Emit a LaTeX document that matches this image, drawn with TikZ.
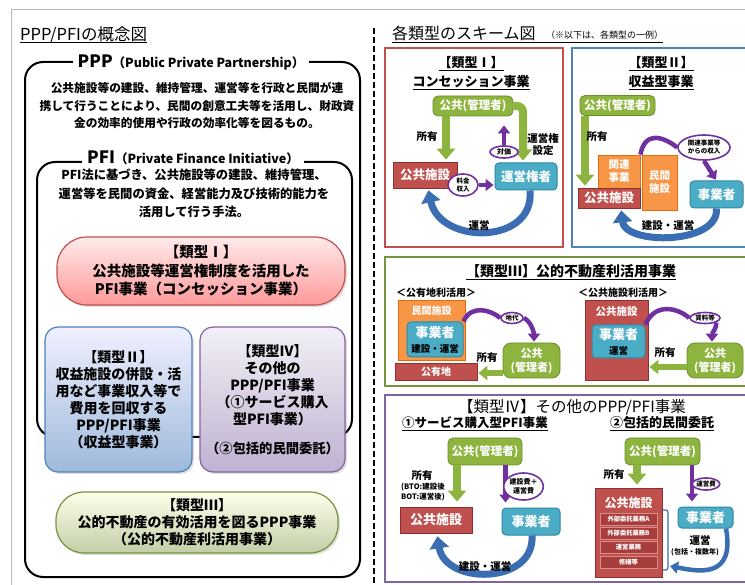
\documentclass[tikz,border=0pt]{standalone}
\usepackage{fontspec}
\setmainfont{Noto Sans CJK JP}
\usetikzlibrary{arrows.meta,shapes.geometric,shadows}
\definecolor{grnF}{HTML}{8DB43E}
\definecolor{grnD}{HTML}{6A8E2A}
\definecolor{redF}{HTML}{C0504D}
\definecolor{redD}{HTML}{8E2F2C}
\definecolor{redI}{HTML}{A83E3B}
\definecolor{redL}{HTML}{D98C8A}
\definecolor{tealF}{HTML}{4BACC6}
\definecolor{tealD}{HTML}{2E8AA3}
\definecolor{orgF}{HTML}{F79646}
\definecolor{orgD}{HTML}{E46C0A}
\definecolor{purp}{HTML}{7030A0}
\definecolor{bluA}{HTML}{3B6DB3}
\definecolor{panR}{HTML}{C0504D}
\definecolor{panB}{HTML}{4F81BD}
\definecolor{panG}{HTML}{77933C}
\definecolor{panP}{HTML}{8064A2}
\newcommand\fsz[2]{\fontsize{#1}{#2}\selectfont\bfseries}
\newcommand\fszm[2]{\fontsize{#1}{#2}\selectfont\mdseries}
\begin{document}
\begin{tikzpicture}[x=1pt,y=-1pt,font=\bfseries,
  gbox/.style={draw=grnD, fill=grnF, rounded corners=5pt, text=white, inner sep=0, line width=0.8pt, align=center},
  rbox/.style={draw=redD, fill=redF, text=white, inner sep=0, line width=0.8pt, align=center},
  ibox/.style={draw=redL, fill=redI, text=white, inner sep=0, line width=0.6pt, minimum width=57, minimum height=12, font=\fsz{6.3}{7}},
  tbox/.style={draw=tealD, fill=tealF, rounded corners=4pt, text=white, inner sep=0, line width=1pt, align=center},
  obox/.style={draw=orgD, fill=orgF, text=white, inner sep=0, line width=0.8pt, align=center},
  pell/.style={ellipse, draw=purp, line width=1.6pt, fill=white, inner sep=0, text=black, align=center},
  lbl/.style={inner sep=0, font=\fsz{10.5}{12}, align=center},
  wlbl/.style={inner sep=0, text=white, align=center},
  garrow/.style={draw=grnF, line width=8pt, -{Triangle[width=18pt,length=11pt]}},
  garrowh/.style={draw=grnF, line width=6pt, -{Triangle[width=14pt,length=9pt]}},
  parrow/.style={draw=purp, line width=4.5pt, -{Triangle[width=12pt,length=8pt]}},
  pline/.style={draw=purp, line width=4.5pt},
  barrow/.style={draw=bluA, line width=7pt, -{Triangle[width=19pt,length=12pt]}},
  barrows/.style={draw=bluA, line width=4.5pt, -{Triangle[width=12pt,length=8pt]}},
  panel/.style={draw, line width=1.5pt, fill=white, inner sep=0},
  ltype/.style={draw, line width=1.2pt, align=center, inner sep=0, drop shadow={opacity=0.25, shadow xshift=2pt, shadow yshift=-2pt}}
]
\useasboundingbox (0,0) rectangle (745,585);
\fill[white] (0,0) rectangle (745,585);

% frame
\draw[gray!55, line width=1pt] (11,585) -- (11,10) -- (745,10);
\draw[line width=1.3pt, dash pattern=on 6pt off 3pt] (374,28) -- (374,585);
\coordinate (ul) at (0,43);

% ================= LEFT =================
\node[anchor=west, inner sep=0, font=\fszm{16.5}{18}] (ltitle) at (20,35) {PPP/PFIの概念図};
\draw[line width=1pt] (ltitle.west |- ul) -- (ltitle.east |- ul);

\node[draw, line width=2pt, rounded corners=18pt, minimum width=335, minimum height=515, inner sep=0] (pppbox) at (192.5,319.5) {};
\node[fill=white, inner xsep=5pt, inner ysep=2pt] (ppplbl) at (191,62) {\fsz{17}{18}PPP\fsz{12.5}{14}（Public Private Partnership）};
\node[align=center, inner sep=0, font=\fsz{11.7}{17.5}] (pppdesc) at (197,105.5) {公共施設等の建設、維持管理、運営等を行政と民間が連\\携して行うことにより、民間の創意工夫等を活用し、財政資\\金の効率的使用や行政の効率化等を図るもの。};

\node[draw, line width=2pt, rounded corners=18pt, minimum width=315, minimum height=275, inner sep=0] (pfibox) at (194.5,299.5) {};
\node[fill=white, inner xsep=5pt, inner ysep=2pt] (pfilbl) at (193,158) {\fsz{17}{18}PFI\fsz{12.5}{14}（Private Finance Initiative）};
\node[align=center, inner sep=0, font=\fsz{12.3}{18.5}] (pfidesc) at (194,193.5) {PFI法に基づき、公共施設等の建設、維持管理、\\運営等を民間の資金、経営能力及び技術的能力を\\活用して行う手法。};

\node[ltype, draw=panR, top color=red!8, bottom color=red!40, rounded corners=30pt, minimum width=288, minimum height=68, font=\fsz{14.5}{18.5}] (lt1) at (201,271) {【類型Ⅰ】\\公共施設等運営権制度を活用した\\PFI事業（コンセッション事業）};
\node[ltype, draw=panB, top color=blue!6, bottom color=panB!55, rounded corners=13pt, minimum width=147, minimum height=145, font=\fsz{14}{17}] (lt2) at (118.5,399.5) {【類型Ⅱ】\\収益施設の併設・活\\用など事業収入等で\\費用を回収する\\PPP/PFI事業\\（収益型事業）};
\node[ltype, draw=panP, top color=panP!10, bottom color=panP!50, rounded corners=13pt, minimum width=145, minimum height=145, font=\fsz{14}{17}] (lt4) at (272.5,399.5) {【類型Ⅳ】\\その他の\\PPP/PFI事業\\（①サービス購入\\型PFI事業）\\[12pt]\fsz{13.3}{15}（②包括的民間委託）};
\node[ltype, draw=panG, top color=green!4!yellow!8, bottom color=panG!45, rounded corners=28pt, minimum width=282, minimum height=61, font=\fsz{14}{17}] (lt3) at (197,522.5) {【類型Ⅲ】\\公的不動産の有効活用を図るPPP事業\\（公的不動産利活用事業）};

% ================= RIGHT =================
\node[anchor=west, inner sep=0, font=\fszm{16}{18}] (rtitle) at (392,33) {各類型のスキーム図};
\node[anchor=west, inner sep=0, font=\fszm{9}{10}] (rsub) at (546,35) {（※以下は、各類型の一例）};
\draw[line width=1pt] (rtitle.west |- ul) -- (rsub.east |- ul);

% ---- Panel I ----
\node[panel, draw=panR, minimum width=178, minimum height=199] (p1) at (474,147.5) {};
\node[align=center, inner sep=0, font=\fsz{13}{19.5}] (p1t) at (471,73) {\underline{【類型Ⅰ】}\\\underline{コンセッション事業}};
\node[gbox, minimum width=80, minimum height=20, font=\fsz{11.5}{13}] (g1) at (473,106) {公共(管理者)};
\node[rbox, minimum width=64, minimum height=26, font=\fsz{12.5}{14}] (f1) at (425,175) {公共施設};
\node[tbox, minimum width=62, minimum height=27, font=\fsz{12.5}{14}] (o1) at (526,176.5) {運営権者};
\coordinate (x1) at (446,0);
\coordinate (x2) at (523,0);
\coordinate (x3) at (530,0);
\coordinate (x4) at (428,0);
\draw[garrow, shorten >=2pt] (g1.south -| x1) -- (f1.north -| x1);
\draw[garrow, rounded corners=6pt, shorten >=2pt] (g1.east) -| (o1.north -| x2);
\node[lbl] (l1a) at (427,137) {所有};
\node[lbl] (l1b) at (543,145) {運営権\\設定};
\node[pell, minimum width=28, minimum height=12, font=\fsz{7}{8}] (e1) at (504,152) {対価};
\draw[parrow, shorten >=9pt] (e1.north) -- (e1.north |- g1.south);
\node[pell, minimum width=30, minimum height=22, font=\fsz{6.5}{7.5}] (e2) at (463,185) {料金\\収入};
\draw[parrow, shorten >=1pt] (e2.east) -- (e2.east -| o1.west);
\draw[barrow, shorten >=2pt] (o1.south -| x3) .. controls (535,245) and (440,245) .. (f1.south -| x4);
\node[lbl] (l1c) at (479,226) {運営};

% ---- Panel II ----
\node[panel, draw=panB, minimum width=180, minimum height=199] (p2) at (662,147.5) {};
\node[align=center, inner sep=0, font=\fsz{13}{19.5}] (p2t) at (661,73) {\underline{【類型Ⅱ】}\\\underline{収益型事業}};
\node[gbox, minimum width=75, minimum height=20, font=\fsz{11.5}{13}] (g2) at (617.5,105.5) {公共(管理者)};
\node[obox, minimum width=35, minimum height=55, font=\fsz{10.5}{13}] (m2) at (659.5,182.5) {民間\\施設};
\node[obox, minimum width=42, minimum height=33, font=\fsz{10.5}{13}] (k2) at (619,171.5) {関連\\事業};
\node[rbox, minimum width=62, minimum height=20, font=\fsz{12.5}{14}] (f2) at (609,198) {公共施設};
\node[tbox, minimum width=53, minimum height=27, font=\fsz{12.5}{14}] (j2) at (716.5,194.5) {事業者};
\coordinate (x5) at (585,0);
\coordinate (x6) at (621,0);
\draw[garrow, shorten >=2pt] (g2.south -| x5) -- (f2.north -| x5);
\node[lbl] (l2a) at (597,137) {所有};
\node[pell, minimum width=52, minimum height=25, font=\fsz{6.5}{8}] (e3) at (704,147.5) {関連事業等\\からの収入};
\draw[pline] (k2.north east) .. controls (645,130) and (664,137) .. (e3.west);
\draw[parrow, shorten >=1pt] (e3.south) -- (j2.north);
\draw[barrow, shorten >=2pt] (j2.south) .. controls (719,245) and (625,245) .. (f2.south -| x6);
\node[lbl] (l2b) at (668,226) {建設・運営};

% ---- Panel III ----
\node[panel, draw=panG, minimum width=367, minimum height=129] (p3) at (568.5,321.5) {};
\node[inner sep=0, font=\fsz{14}{16}] (p3t) at (571,272) {\underline{【類型Ⅲ】公的不動産利活用事業}};
\node[inner sep=0, font=\fsz{10}{12}] (p3a) at (436,293) {＜公有地利活用＞};
\node[inner sep=0, font=\fsz{10}{12}] (p3b) at (623,293) {＜公共施設利活用＞};
% left sub
\node[obox, minimum width=67, minimum height=60] (m3) at (431.5,330) {};
\node[wlbl, font=\fsz{10}{12}] (m3l) at (431.5,311) {民間施設};
\node[tbox, minimum width=56, minimum height=35, font=\fsz{13}{15}] (b3) at (435,339.5) {事業者\\\fsz{9.5}{11}\color{black}建設・運営};
\node[rbox, minimum width=82, minimum height=17, font=\fsz{10}{12}] (r3) at (436,371.5) {公有地};
\node[gbox, rounded corners=8pt, minimum width=57, minimum height=35, font=\fsz{11}{14}] (g7) at (531.5,360.5) {公共\\(管理者)};
\coordinate (y1) at (0,373);
\coordinate (x7) at (534,0);
\draw[garrowh, shorten >=1pt] (g7.west |- y1) -- (r3.east |- y1);
\node[lbl] (l3a) at (487,358) {所有};
\node[pell, minimum width=22, minimum height=11, font=\fsz{6.5}{7}] (e4) at (512,318) {地代};
\draw[pline] (b3.north east) .. controls (471,304) and (491,310) .. (e4.west);
\draw[parrow, shorten >=1pt] (e4.east) .. controls (531,321) and (534,333) .. (g7.north -| x7);
% right sub
\node[rbox, minimum width=63, minimum height=80] (f3) at (616.5,340) {};
\node[wlbl, font=\fsz{10.5}{12}] (f3l) at (616.5,312) {公共施設};
\node[tbox, minimum width=53, minimum height=33, font=\fsz{13}{15}] (b4) at (618.5,341.5) {事業者\\\fsz{9.5}{11}\color{black}運営};
\node[gbox, rounded corners=8pt, minimum width=56, minimum height=35, font=\fsz{11}{14}] (g8) at (715,360.5) {公共\\(管理者)};
\coordinate (y2) at (0,367);
\coordinate (x8) at (712,0);
\draw[garrowh, shorten >=1pt] (g8.west |- y2) -- (f3.east |- y2);
\node[lbl] (l3b) at (665,353) {所有};
\node[pell, minimum width=30, minimum height=11, font=\fsz{6.5}{7}] (e5) at (705,318) {賃料等};
\draw[pline] (b4.north east) .. controls (655,302) and (678,308) .. (e5.west);
\draw[parrow, shorten >=1pt] (e5.south east) .. controls (717,328) and (712,333) .. (g8.north -| x8);

% ---- Panel IV ----
\node[panel, draw=panP, minimum width=367, minimum height=187] (p4) at (568.5,488.5) {};
\node[inner sep=0, font=\fszm{15.5}{17}] (p4t) at (572,407) {【類型Ⅳ】その他のPPP/PFI事業};
\node[inner sep=0, font=\fsz{12.5}{14}] (p4a) at (475,424) {\underline{①サービス購入型PFI事業}};
\node[inner sep=0, font=\fsz{13}{14}] (p4b) at (662,424) {\underline{②包括的民間委託}};
% left sub
\node[gbox, minimum width=74, minimum height=27, font=\fsz{11.5}{13}] (g9) at (485,451.5) {公共(管理者)};
\node[rbox, minimum width=72, minimum height=26, font=\fsz{13}{15}] (f4) at (436,520) {公共施設};
\node[tbox, minimum width=58, minimum height=27, font=\fsz{13}{15}] (j4) at (531,521.5) {事業者};
\coordinate (x9) at (457,0);
\coordinate (x10) at (505.5,0);
\coordinate (x11) at (437,0);
\coordinate (x12) at (532,0);
\draw[garrow, shorten >=5pt] (g9.south -| x9) -- (f4.north -| x9);
\node[lbl, font=\fsz{10.5}{11}] (l4a) at (422,476) {所有};
\node[lbl, font=\fsz{7.5}{10}] (l4b) at (423,492) {(BTO:建設後\\BOT:運営後)};
\draw[parrow, shorten >=5pt] (g9.south -| x10) -- (j4.north -| x10);
\node[pell, minimum width=33, minimum height=27, font=\fsz{7}{9}] (e6) at (523.5,486.5) {建設費＋\\運営費};
\draw[barrow, shorten >=3pt] (j4.south -| x12) .. controls (535,585) and (445,585) .. (f4.south -| x11);
\node[lbl] (l4c) at (485,567) {建設・運営};
% right sub
\node[gbox, minimum width=75, minimum height=27, font=\fsz{11.5}{13}] (g10) at (662.5,451.5) {公共(管理者)};
\node[rbox, minimum width=67, minimum height=89] (f5) at (628.5,532.5) {};
\node[wlbl, font=\fsz{12}{14}] (f5l) at (628.5,503) {公共施設};
\node[ibox] (i1) at (628.5,519) {外部委託業務A};
\node[ibox] (i2) at (628.5,533) {外部委託業務B};
\node[ibox] (i3) at (628.5,547.5) {運営業務};
\node[ibox] (i4) at (628.5,562) {修繕等};
\draw[bluA, line width=1.2pt] (663,510) .. controls (668,510) .. (668,516) -- (668,564) .. controls (668,570) .. (663,570);
\node[tbox, minimum width=55, minimum height=21, font=\fsz{13}{15}] (j5) at (705.5,517.5) {事業者};
\coordinate (x13) at (637,0);
\coordinate (x14) at (692,0);
\coordinate (x15) at (726,0);
\coordinate (br) at (670,566);
\draw[garrow, shorten >=3pt] (g10.south -| x13) -- (f5.north -| x13);
\node[lbl] (l4d) at (614,475) {所有};
\draw[parrow, shorten >=5pt] (g10.south -| x14) -- (j5.north -| x14);
\node[pell, minimum width=26, minimum height=12, font=\fsz{6.5}{7}] (e7) at (706,484) {運営費};
\node[lbl, font=\fsz{10.5}{12}] (l4e) at (700,540) {運営};
\node[lbl, font=\fsz{7}{8}] (l4f) at (695,552) {(包括・複数年)};
\draw[barrows] (j5.south -| x15) .. controls (735,578) and (700,572) .. (br);
\end{tikzpicture}
\end{document}
